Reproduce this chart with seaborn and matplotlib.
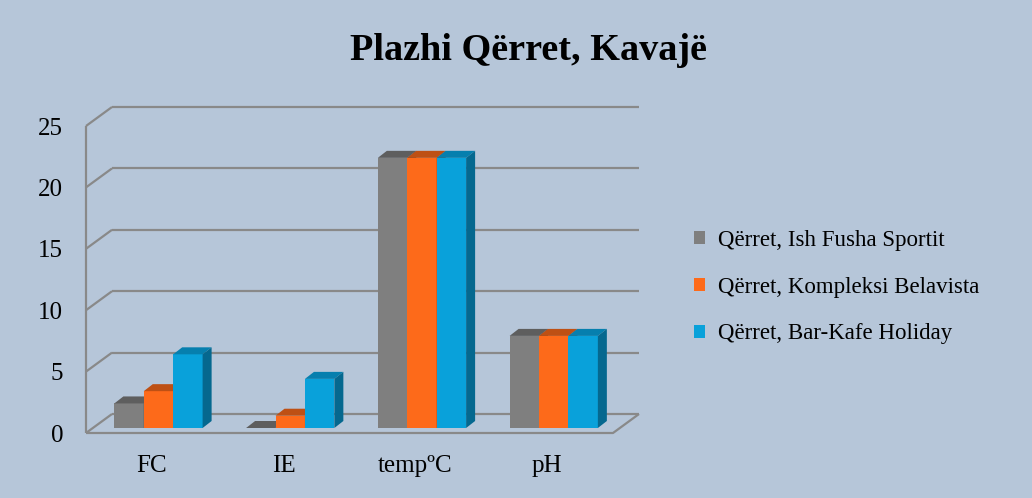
import matplotlib
matplotlib.use("Agg")
import matplotlib.pyplot as plt
import matplotlib.transforms as mtransforms
from matplotlib.patches import Polygon
import pandas as pd
import seaborn as sns

# data
categories = ['FC', 'IE', 'tempºC', 'pH']
sites = ['Qërret, Ish Fusha Sportit',
         'Qërret, Kompleksi Belavista',
         'Qërret, Bar-Kafe Holiday']
ish_fusha = [2, 0, 22, 7.5]
belavista = [3, 1, 22, 7.5]
holiday = [6, 4, 22, 7.5]
yticks = [0, 5, 10, 15, 20, 25]

BG = '#B6C6D9'
FACE = ['#7F7F7F', '#FD6A1A', '#09A1DA']
TOP = ['#5E5E5E', '#BE5014', '#067FAE']
SIDE = ['#505050', '#A8430F', '#05688F']
GRID = '#898989'

sns.set_style('white')
plt.rcParams['font.family'] = ['Liberation Serif', 'DejaVu Serif']
plt.rcParams['text.color'] = 'black'
plt.rcParams['xtick.color'] = 'black'
plt.rcParams['ytick.color'] = 'black'

df = pd.DataFrame({
    'param': categories * 3,
    'site': [s for s in sites for _ in categories],
    'value': ish_fusha + belavista + holiday,
})

fig = plt.figure(figsize=(10.32, 4.98), dpi=100, facecolor=BG)
W, H = 527, 307   # front plane size in px
ax = fig.add_axes([86 / 1032, 65 / 498, W / 1032, H / 498])
ax.set_facecolor('none')

sns.barplot(data=df, x='param', y='value', hue='site', hue_order=sites,
            palette=FACE, width=0.67, saturation=1, linewidth=0, ax=ax)
ax.set_xlim(-0.5, 3.5)
ax.set_ylim(0, 25)

pxx = W / 4.0
pxy = H / 25.0

# walls / floor of the fake 3d box
dx, dy = 26 / pxx, 19 / pxy
x0, x1 = -0.5, 3.5
kw = dict(color=GRID, lw=1.6, clip_on=False, zorder=1, solid_capstyle='butt')
for t in yticks:
    ax.plot([x0 + dx, x1 + dx], [t + dy, t + dy], **kw)
    ax.plot([x0, x0 + dx], [t, t + dy], **kw)
ax.plot([x0, x0], [0, 25], **kw)
ax.plot([x0, x1, x1 + dx], [0, 0, dy], **kw)

# push bars back a bit and give them top / side faces
shift = mtransforms.offset_copy(ax.transData, fig=fig, x=6.6, y=5, units='dots')
bw, bh = 9 / pxx, 7 / pxy
for k, cont in enumerate(ax.containers):
    for p in cont:
        p.set_transform(shift)
        p.set_zorder(3 + k)
        x, w, h = p.get_x(), p.get_width(), p.get_height()
        top = Polygon([(x, h), (x + w, h), (x + w + bw, h + bh), (x + bw, h + bh)],
                      closed=True, fc=TOP[k], ec='none', transform=shift,
                      zorder=3 + k, clip_on=False)
        side = Polygon([(x + w, 0), (x + w + bw, bh), (x + w + bw, h + bh), (x + w, h)],
                       closed=True, fc=SIDE[k], ec='none', transform=shift,
                       zorder=3 + k, clip_on=False)
        ax.add_patch(top)
        ax.add_patch(side)

ax.set_yticks(yticks)
ax.tick_params(axis='y', length=0, pad=16.5, labelsize=18)
ax.tick_params(axis='x', length=0, pad=16, labelsize=18)
ax.set_xlabel('')
ax.set_ylabel('')
for s in ax.spines.values():
    s.set_visible(False)

handles, labels = ax.get_legend_handles_labels()
ax.legend(handles, labels, loc='center left',
          bbox_to_anchor=(694 / 1032, (498 - 287) / 498),
          bbox_transform=fig.transFigure, frameon=False, fontsize=16.5,
          handlelength=0.5, handleheight=0.5, handletextpad=0.55,
          labelspacing=1.12, borderaxespad=0, borderpad=0)

fig.text(0.512, 438 / 498, 'Plazhi Qërret, Kavajë', ha='center', va='baseline',
         fontsize=27.5, fontweight='bold')

fig.savefig('out.png', dpi=100, facecolor=BG)
